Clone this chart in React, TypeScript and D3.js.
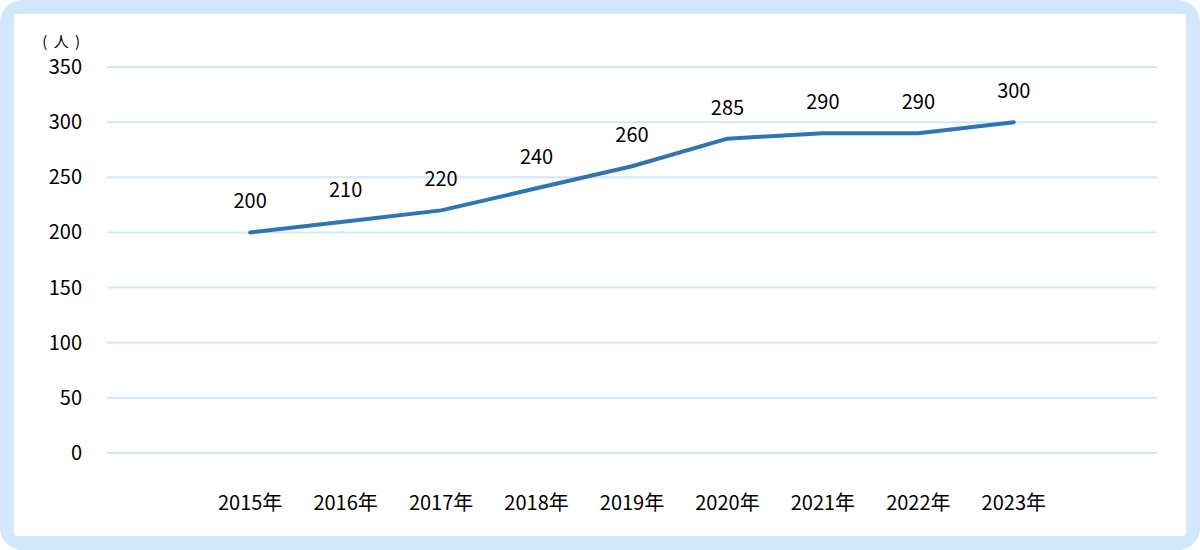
import React from "react";
import * as d3 from "d3";

const years = ["2015年", "2016年", "2017年", "2018年", "2019年", "2020年", "2021年", "2022年", "2023年"];
const values = [200, 210, 220, 240, 260, 285, 290, 290, 300];
const yTicks = [0, 50, 100, 150, 200, 250, 300, 350];
const unitLabel = "( 人 )";

const W = 1200, H = 550;
const left = 107, right = 1157, top = 67, bottom = 453;
const FONT = "'Noto Sans CJK JP', 'Open Sans', sans-serif";

export default function App() {
  const x = d3.scalePoint<string>().domain(years).range([left, right]).padding(1.5);
  const y = d3.scaleLinear().domain([0, 350]).range([bottom, top]);
  const line = d3.line<number>().x((_, i) => x(years[i])!).y((d) => y(d));

  return (
    <svg width={W} height={H} style={{ position: "absolute", left: 0, top: 0 }}>
      <rect x={0} y={0} width={W} height={H} rx={22} ry={22} fill="#d3e7fb" />
      <rect x={14} y={14} width={W - 28} height={H - 28} rx={4} ry={4} fill="#ffffff" />
      {yTicks.map((t) => (
        <g key={t}>
          <line x1={left} x2={right} y1={y(t)} y2={y(t)} stroke="#d3e7fb" strokeWidth={2} />
          <text x={82} y={y(t)} dy="0.35em" textAnchor="end" fontFamily={FONT} fontSize={20} fill="#000">
            {t}
          </text>
        </g>
      ))}
      <text x={62} y={42} dy="0.35em" textAnchor="middle" fontFamily={FONT} fontSize={15} fill="#000" style={{ whiteSpace: "pre" }} letterSpacing={1.5}>
        {unitLabel}
      </text>
      {years.map((yr) => (
        <text key={yr} x={x(yr)} y={503} dy="0.35em" textAnchor="middle" fontFamily={FONT} fontSize={20} fill="#000">
          {yr}
        </text>
      ))}
      <path d={line(values) ?? ""} fill="none" stroke="#2e75b6" strokeWidth={4} strokeLinejoin="round" strokeLinecap="round" />
      {values.map((v, i) => (
        <text key={i} x={x(years[i])} y={y(v) - 31} dy="0.35em" textAnchor="middle" fontFamily={FONT} fontSize={20} fill="#000">
          {v}
        </text>
      ))}
    </svg>
  );
}
